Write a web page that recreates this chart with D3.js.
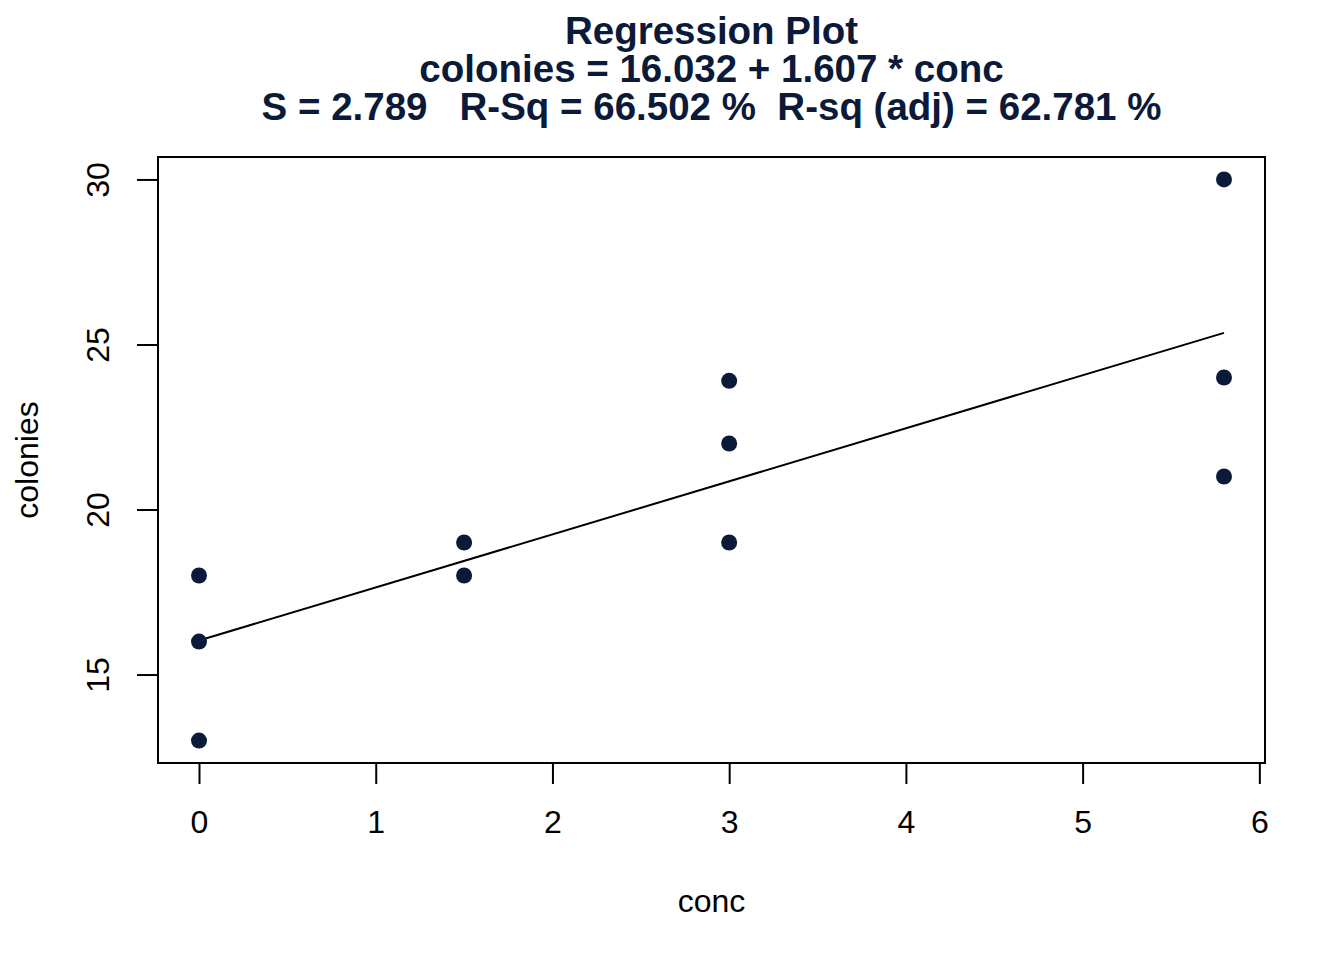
<!DOCTYPE html>
<html>
<head>
<meta charset="utf-8">
<script src="https://cdn.jsdelivr.net/npm/d3@7"></script>
<style>
  html, body { margin: 0; padding: 0; background: #ffffff; }
  svg { display: block; }
  text { font-family: "Liberation Sans", Arial, Helvetica, sans-serif; }
</style>
</head>
<body>
<svg id="chart" width="1344" height="960"></svg>
<script>
// ---- data ----
const conc     = [0, 0, 0, 1.5, 1.5, 3, 3, 3, 5.8, 5.8, 5.8];
const colonies = [18, 16, 13, 19, 18, 23.9, 22, 19, 30, 24, 21];
const fitCoef  = [16.032, 1.607];           // intercept, slope
const xTicks   = [0, 1, 2, 3, 4, 5, 6];
const yTicks   = [15, 20, 25, 30];
const titleLines = [
  "Regression Plot",
  "colonies = 16.032 + 1.607 * conc",
  "S = 2.789   R-Sq = 66.502 %  R-sq (adj) = 62.781 %"
];
const xLabel = "conc";
const yLabel = "colonies";

// ---- layout ----
const W = 1344, H = 960;
const box = { left: 158, right: 1265, top: 157, bottom: 763 };
const ink = "#0b1a38";
const fs = 32;

const svg = d3.select("#chart");

// R-style 4% extension of data ranges
function extend(ext) { const d = (ext[1] - ext[0]) * 0.04; return [ext[0] - d, ext[1] + d]; }
const x = d3.scaleLinear().domain(extend(d3.extent(conc))).range([box.left, box.right]);
const y = d3.scaleLinear().domain(extend(d3.extent(colonies))).range([box.bottom, box.top]);

// plot box
svg.append("rect")
  .attr("x", box.left).attr("y", box.top)
  .attr("width", box.right - box.left).attr("height", box.bottom - box.top)
  .attr("fill", "none").attr("stroke", "#000").attr("stroke-width", 2);

// x axis
const xAxis = d3.axisBottom(x).tickValues(xTicks).tickSize(21).tickPadding(26)
  .tickFormat(d3.format("d"));
const gx = svg.append("g").attr("transform", `translate(0,${box.bottom})`).call(xAxis);
gx.select(".domain").attr("d", `M${x(xTicks[0])},0H${x(xTicks[xTicks.length - 1])}`)
  .attr("stroke", "#000").attr("stroke-width", 2);
gx.selectAll(".tick line").attr("stroke", "#000").attr("stroke-width", 2);
gx.selectAll(".tick text").attr("font-size", fs).attr("fill", "#000")
  .attr("font-family", '"Liberation Sans", Arial, sans-serif');

// y axis
const yAxis = d3.axisLeft(y).tickValues(yTicks).tickSize(21).tickFormat(d3.format("d"));
const gy = svg.append("g").attr("transform", `translate(${box.left},0)`).call(yAxis);
gy.select(".domain").attr("d", `M0,${y(yTicks[0])}V${y(yTicks[yTicks.length - 1])}`)
  .attr("stroke", "#000").attr("stroke-width", 2);
gy.selectAll(".tick line").attr("stroke", "#000").attr("stroke-width", 2);
gy.selectAll(".tick text")
  .attr("font-size", fs).attr("fill", "#000")
  .attr("font-family", '"Liberation Sans", Arial, sans-serif')
  .attr("x", null).attr("dy", null)
  .attr("text-anchor", "middle")
  .attr("transform", "translate(-49,0) rotate(-90)");

// axis labels
svg.append("text").attr("x", (box.left + box.right) / 2).attr("y", 912)
  .attr("text-anchor", "middle").attr("font-size", fs).attr("fill", "#000").text(xLabel);
svg.append("text")
  .attr("transform", `translate(38,${(box.top + box.bottom) / 2}) rotate(-90)`)
  .attr("text-anchor", "middle").attr("font-size", fs).attr("fill", "#000").text(yLabel);

// regression line
const xr = d3.extent(conc);
svg.append("line")
  .attr("x1", x(xr[0])).attr("y1", y(fitCoef[0] + fitCoef[1] * xr[0]))
  .attr("x2", x(xr[1])).attr("y2", y(fitCoef[0] + fitCoef[1] * xr[1]))
  .attr("stroke", "#000").attr("stroke-width", 2);

// points
svg.append("g").selectAll("circle")
  .data(conc.map((c, i) => [c, colonies[i]]))
  .join("circle")
  .attr("cx", d => x(d[0])).attr("cy", d => y(d[1]))
  .attr("r", 8).attr("fill", ink);

// title
svg.append("g").selectAll("text").data(titleLines).join("text")
  .attr("x", (box.left + box.right) / 2)
  .attr("y", (d, i) => 44 + i * 38)
  .attr("text-anchor", "middle")
  .attr("font-size", 38.5).attr("font-weight", "bold").attr("fill", ink)
  .attr("xml:space", "preserve").style("white-space", "pre")
  .text(d => d);
</script>
</body>
</html>
